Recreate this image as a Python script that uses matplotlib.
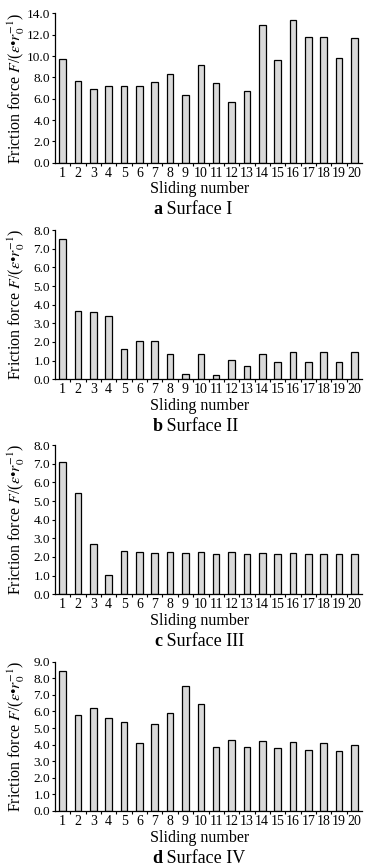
import numpy as np
import matplotlib
matplotlib.use("Agg")
from matplotlib import pyplot as plt

plt.rcParams['font.family'] = ['Liberation Serif', 'DejaVu Serif']
plt.rcParams['mathtext.fontset'] = 'stix'

sliding = list(range(1, 21))

surface_1 = [9.7, 7.65, 6.95, 7.2, 7.15, 7.2, 7.6, 8.3, 6.3, 9.2,
             7.45, 5.65, 6.75, 12.9, 9.65, 13.4, 11.75, 11.75, 9.8, 11.65]
surface_2 = [7.5, 3.65, 3.6, 3.38, 1.65, 2.05, 2.05, 1.38, 0.28, 1.38,
             0.24, 1.05, 0.7, 1.37, 0.92, 1.46, 0.92, 1.46, 0.92, 1.46]
surface_3 = [7.07, 5.41, 2.68, 1.02, 2.32, 2.27, 2.21, 2.27, 2.21, 2.27,
             2.16, 2.27, 2.18, 2.23, 2.18, 2.2, 2.18, 2.18, 2.14, 2.14]
surface_4 = [8.42, 5.8, 6.2, 5.6, 5.34, 4.08, 5.26, 5.9, 7.54, 6.44,
             3.86, 4.28, 3.86, 4.22, 3.78, 4.16, 3.7, 4.08, 3.64, 4.0]

series = [surface_1, surface_2, surface_3, surface_4]
y_max = [14.0, 8.0, 8.0, 9.0]
y_step = [2.0, 1.0, 1.0, 1.0]
captions = [("a", "Surface I"), ("b", "Surface II"),
            ("c", "Surface III"), ("d", "Surface IV")]

fig = plt.figure(figsize=(3.73, 8.68), dpi=100)
bottoms = [0.8126, 0.563, 0.3153, 0.0657]

for i in range(4):
    ax = fig.add_axes([0.1475, bottoms[i], 0.823, 0.172])
    ax.bar(sliding, series[i], width=0.43, color='#d9d9d9',
           edgecolor='black', linewidth=0.9)
    ax.set_xlim(0.5, 20.5)
    ax.set_ylim(0, y_max[i])
    yt = np.arange(0, y_max[i] + 0.01, y_step[i])
    ax.set_yticks(yt)
    ax.set_yticklabels(['%.1f' % v for v in yt])
    ax.set_xticks(sliding)
    ax.set_xticks(np.arange(1.5, 20.5, 1.0), minor=True)
    ax.tick_params(axis='x', which='major', length=0, labelsize=10, pad=3)
    ax.tick_params(axis='x', which='minor', length=2.5, width=0.8, direction='out')
    ax.tick_params(axis='y', length=2.5, width=0.8, direction='out',
                   labelsize=9.5, pad=1)
    for s in ['top', 'right']:
        ax.spines[s].set_visible(False)
    for s in ['left', 'bottom']:
        ax.spines[s].set_linewidth(0.9)
    ax.set_ylabel(r'Friction force $F$/($\varepsilon$•$r_0^{-1}$)', fontsize=11.5)
    ax.yaxis.set_label_coords(-0.09, 0.5)
    ax.set_xlabel('Sliding number', fontsize=11.5)
    ax.xaxis.set_label_coords(0.47, -0.125)
    # caption: bold letter + plain surface name
    ax.annotate(captions[i][0], xy=(0.35, 0), xycoords='axes fraction',
                xytext=(0, -34), textcoords='offset points',
                ha='right', va='center', fontsize=13, fontweight='bold')
    ax.annotate(' ' + captions[i][1], xy=(0.35, 0), xycoords='axes fraction',
                xytext=(0, -34), textcoords='offset points',
                ha='left', va='center', fontsize=13)

fig.savefig('out.png', dpi=100)
